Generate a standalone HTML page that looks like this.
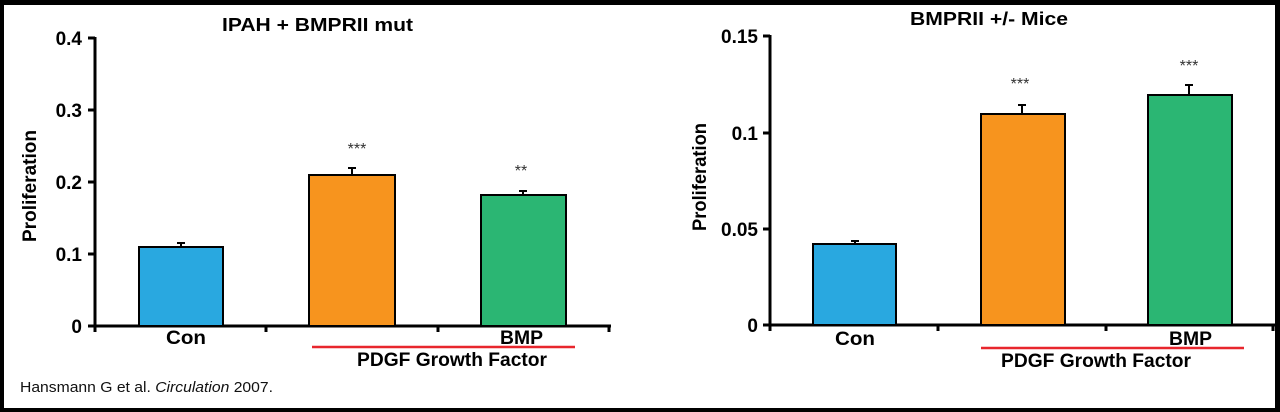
<!DOCTYPE html>
<html><head><meta charset="utf-8"><style>
html,body{margin:0;padding:0;background:#000;}
svg{display:block;}
text{font-family:"Liberation Sans",Arial,sans-serif;}
</style></head><body>
<svg width="1280" height="412" viewBox="0 0 1280 412">
<rect x="0" y="0" width="1280" height="412" fill="#000"/>
<rect x="4" y="5" width="1271" height="403" fill="#fff"/>
<!-- LEFT CHART -->
<g font-weight="bold" fill="#000">
<text x="222" y="31" font-size="18" textLength="191" lengthAdjust="spacingAndGlyphs">IPAH + BMPRII mut</text>
<text transform="translate(36,186) rotate(-90)" font-size="19" text-anchor="middle" textLength="112" lengthAdjust="spacingAndGlyphs">Proliferation</text>
<g font-size="19" text-anchor="end">
<text x="82" y="45">0.4</text><text x="82" y="117">0.3</text><text x="82" y="189">0.2</text><text x="82" y="261">0.1</text><text x="82" y="333">0</text>
</g>
<text x="166" y="344" font-size="19" textLength="40" lengthAdjust="spacingAndGlyphs">Con</text>
<text x="500" y="344" font-size="19" textLength="43" lengthAdjust="spacingAndGlyphs">BMP</text>
<text x="357" y="366" font-size="19" textLength="190" lengthAdjust="spacingAndGlyphs">PDGF Growth Factor</text>
</g>
<g stroke="#000" stroke-width="3" fill="none">
<line x1="95" y1="37" x2="95" y2="332"/>
<line x1="95" y1="326" x2="611" y2="326"/>
<line x1="88" y1="38" x2="95" y2="38"/><line x1="88" y1="110" x2="95" y2="110"/><line x1="88" y1="182" x2="95" y2="182"/><line x1="88" y1="254" x2="95" y2="254"/><line x1="88" y1="326" x2="95" y2="326"/>
<line x1="266" y1="326" x2="266" y2="332"/><line x1="438" y1="326" x2="438" y2="332"/><line x1="609" y1="326" x2="609" y2="332"/>
</g>
<g stroke="#000" stroke-width="2">
<rect x="139" y="247" width="84" height="79" fill="#29a8e0"/>
<rect x="309" y="175" width="86" height="151" fill="#f7941e"/>
<rect x="481" y="195" width="85" height="131" fill="#2bb673"/>
<line x1="181" y1="247" x2="181" y2="243"/><line x1="177" y1="243" x2="185" y2="243"/>
<line x1="352" y1="175" x2="352" y2="168"/><line x1="348" y1="168" x2="356" y2="168"/>
<line x1="523" y1="195" x2="523" y2="191"/><line x1="519" y1="191" x2="527" y2="191"/>
</g>
<text x="357" y="154" font-size="16" text-anchor="middle" fill="#333">***</text>
<text x="521" y="176" font-size="16" text-anchor="middle" fill="#333">**</text>
<line x1="312" y1="347" x2="575" y2="347" stroke="#e8262d" stroke-width="2.5"/>
<text x="20" y="392" font-size="15" fill="#111" textLength="253" lengthAdjust="spacingAndGlyphs">Hansmann G et al. <tspan font-style="italic">Circulation</tspan> 2007.</text>
<!-- RIGHT CHART -->
<g font-weight="bold" fill="#000">
<text x="910" y="25" font-size="18" textLength="158" lengthAdjust="spacingAndGlyphs">BMPRII +/- Mice</text>
<text transform="translate(706,177) rotate(-90)" font-size="19" text-anchor="middle" textLength="108" lengthAdjust="spacingAndGlyphs">Proliferation</text>
<g font-size="19" text-anchor="end">
<text x="758" y="43">0.15</text><text x="758" y="140">0.1</text><text x="758" y="236">0.05</text><text x="758" y="332">0</text>
</g>
<text x="835" y="345" font-size="19" textLength="40" lengthAdjust="spacingAndGlyphs">Con</text>
<text x="1169" y="345" font-size="19" textLength="43" lengthAdjust="spacingAndGlyphs">BMP</text>
<text x="1001" y="367" font-size="19" textLength="190" lengthAdjust="spacingAndGlyphs">PDGF Growth Factor</text>
</g>
<g stroke="#000" stroke-width="3" fill="none">
<line x1="770" y1="35" x2="770" y2="331"/>
<line x1="770" y1="325" x2="1276" y2="325"/>
<line x1="763" y1="36" x2="770" y2="36"/><line x1="763" y1="133" x2="770" y2="133"/><line x1="763" y1="229" x2="770" y2="229"/><line x1="763" y1="325" x2="770" y2="325"/>
<line x1="938" y1="325" x2="938" y2="331"/><line x1="1106" y1="325" x2="1106" y2="331"/><line x1="1273" y1="325" x2="1273" y2="331"/>
</g>
<g stroke="#000" stroke-width="2">
<rect x="813" y="244" width="83" height="81" fill="#29a8e0"/>
<rect x="981" y="114" width="84" height="211" fill="#f7941e"/>
<rect x="1148" y="95" width="84" height="230" fill="#2bb673"/>
<line x1="855" y1="244" x2="855" y2="241"/><line x1="851" y1="241" x2="859" y2="241"/>
<line x1="1022" y1="114" x2="1022" y2="105"/><line x1="1018" y1="105" x2="1026" y2="105"/>
<line x1="1189" y1="95" x2="1189" y2="85"/><line x1="1185" y1="85" x2="1193" y2="85"/>
</g>
<text x="1020" y="89" font-size="16" text-anchor="middle" fill="#333">***</text>
<text x="1189" y="71" font-size="16" text-anchor="middle" fill="#333">***</text>
<line x1="981" y1="348" x2="1244" y2="348" stroke="#e8262d" stroke-width="2.5"/>
</svg>
</body></html>
